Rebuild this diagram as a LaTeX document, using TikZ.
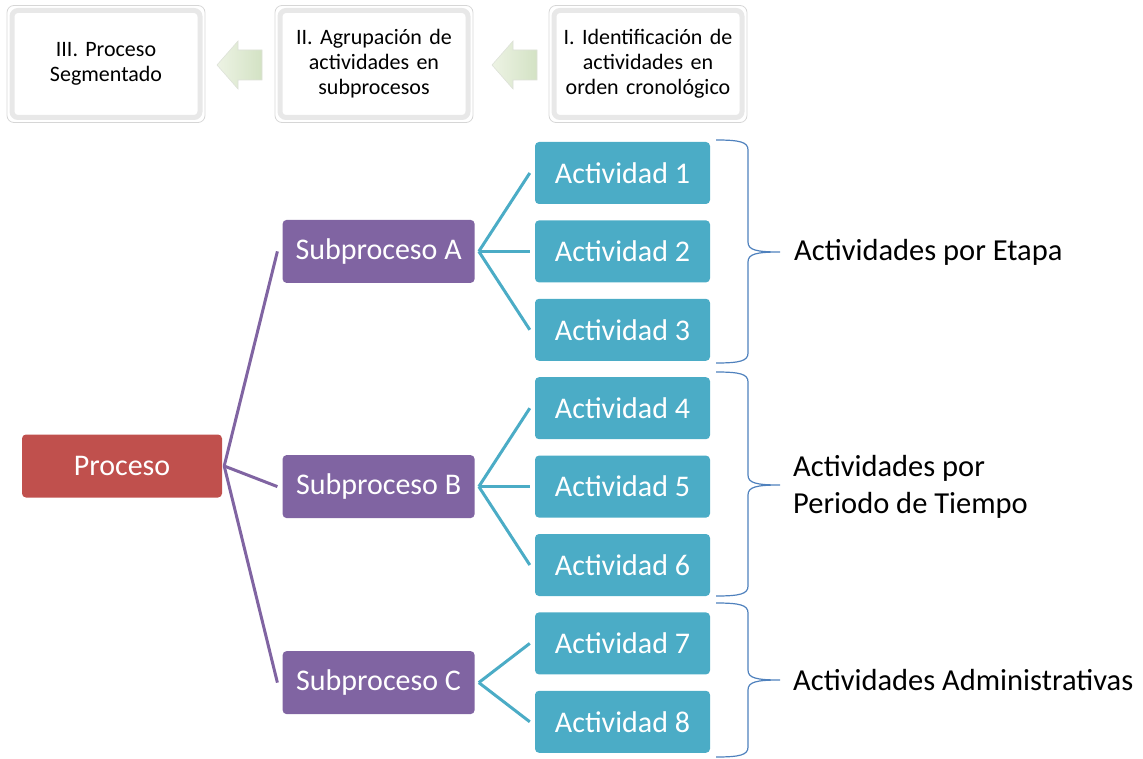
\documentclass[tikz,border=0pt]{standalone}
\usepackage{fontspec}
\setmainfont{Carlito}
\usepackage{xcolor}
\definecolor{rojo-proc}{HTML}{C0504D}
\definecolor{morado-sub}{HTML}{8064A2}
\definecolor{azul-act}{HTML}{4BACC6}
\definecolor{azul-llave}{HTML}{4F81BD}
\definecolor{verde-claro}{HTML}{EDF3E4}
\definecolor{verde-flecha}{HTML}{D3E2C4}
\usepackage{tikz}
\usetikzlibrary{positioning}
\usetikzlibrary{calc}
\tikzset{paso/.style = {draw=black!9, line width=5pt, rounded corners=6pt, fill=white, align=center, text width=175pt, minimum width=188pt, minimum height=107pt, font=\fontsize{22}{25}\selectfont}}
\tikzset{borde/.style = {draw=black!16, line width=0.8pt, rounded corners=7pt}}
\tikzset{flecha/.style = {left color=verde-claro, right color=verde-flecha, draw=verde-flecha!80!black!40, line width=0.6pt}}
\tikzset{proc/.style = {rounded corners=4pt, fill=rojo-proc, text=white, minimum width=200pt, minimum height=63pt, font=\fontsize{30}{36}\selectfont}}
\tikzset{sub/.style = {rounded corners=4pt, fill=morado-sub, text=white, minimum width=192pt, minimum height=63pt, font=\fontsize{30}{36}\selectfont}}
\tikzset{act/.style = {rounded corners=4pt, fill=azul-act, text=white, minimum width=175pt, minimum height=62pt, font=\fontsize{30}{36}\selectfont}}
\tikzset{rama/.style = {line width=3pt, draw=morado-sub}}
\tikzset{hoja/.style = {line width=3pt, draw=azul-act}}
\tikzset{llave/.style = {line width=1.2pt, draw=azul-llave}}
\tikzset{etiq/.style = {anchor=west, align=left, inner sep=0pt, font=\fontsize{30.5}{37}\selectfont}}

\begin{document}
\begin{tikzpicture}[x=1pt, y=-1pt]

\useasboundingbox (0,0) rectangle (1143,759);

% pasos de arriba
\node[paso] (p3) at (106,64) {III. Proceso\\Segmentado};
\node[paso] (p2) at (374,64) {II. Agrupación de\\actividades en\\subprocesos};
\node[paso] (p1) at (648,64) {I. Identificación de\\actividades en\\orden cronológico};
\foreach \p in {p1,p2,p3}
  \draw[borde] ([shift={(-2.5pt,2.5pt)}]\p.north west) rectangle ([shift={(2.5pt,-2.5pt)}]\p.south east);

% flechas (de derecha a izquierda)
\coordinate (f1) at (240,65);
\coordinate (f2) at (515,65);
\foreach \f in {f1,f2}
  \draw[flecha] ($(\f)+(-23,0)$) -- ++(21,-24) -- ++(0,9) -- ++(24,0) -- ++(0,30)
    -- ++(-24,0) -- ++(0,9) -- cycle;

% actividades
\node[act] (a1) at (622.5,173) {Actividad 1};
\node[act, below=16pt of a1] (a2) {Actividad 2};
\node[act, below=16pt of a2] (a3) {Actividad 3};
\node[act, below=16pt of a3] (a4) {Actividad 4};
\node[act, below=16pt of a4] (a5) {Actividad 5};
\node[act, below=16pt of a5] (a6) {Actividad 6};
\node[act, below=16pt of a6] (a7) {Actividad 7};
\node[act, below=16pt of a7] (a8) {Actividad 8};
\coordinate (m78) at ($(a7.west)!.5!(a8.west)$);

% subprocesos y proceso
\node[sub, left=60pt of a2] (sa) {Subproceso A};
\node[sub, left=60pt of a5] (sb) {Subproceso B};
\node[sub, left=60pt of m78] (sc) {Subproceso C};
\node[proc] (pr) at (122,466) {Proceso};

\foreach \s in {sa,sb,sc}
  \draw[rama] ([xshift=2pt]pr.east) -- ([xshift=-5pt]\s.west);
\foreach \a in {a1,a2,a3}
  \draw[hoja] ([xshift=4pt]sa.east) -- ([xshift=-5pt]\a.west);
\foreach \a in {a4,a5,a6}
  \draw[hoja] ([xshift=4pt]sb.east) -- ([xshift=-5pt]\a.west);
\foreach \a in {a7,a8}
  \draw[hoja] ([xshift=4pt]sc.east) -- ([xshift=-5pt]\a.west);

% llaves
\draw[llave] (716,140) .. controls (740,140) and (748,142) .. (748,150) -- (748,242)
  .. controls (748,250) and (756,252) .. (780,252)
  .. controls (756,252) and (748,254) .. (748,262) -- (748,353)
  .. controls (748,361) and (740,363) .. (716,363);
\draw[llave] (716,372) .. controls (740,372) and (748,374) .. (748,382) -- (748,475)
  .. controls (748,483) and (756,485) .. (780,485)
  .. controls (756,485) and (748,487) .. (748,495) -- (748,586)
  .. controls (748,594) and (740,596) .. (716,596);
\draw[llave] (716,603) .. controls (740,603) and (748,605) .. (748,613) -- (748,670)
  .. controls (748,678) and (756,680) .. (780,680)
  .. controls (756,680) and (748,682) .. (748,690) -- (748,747)
  .. controls (748,755) and (740,757) .. (716,757);

\node[etiq] (e1) at (794,252) {Actividades por Etapa};
\node[etiq] (e2) at (793,487) {Actividades por\\Periodo de Tiempo};
\node[etiq] (e3) at (793,680) {Actividades Administrativas};

\end{tikzpicture}
\end{document}
